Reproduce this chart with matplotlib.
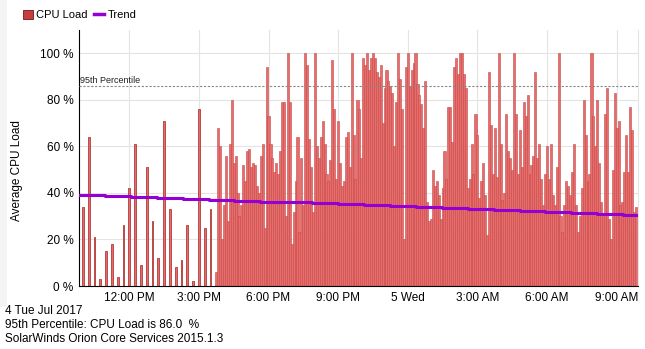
import pandas as pd
import matplotlib
matplotlib.use('Agg')
import matplotlib.pyplot as plt
import matplotlib.dates as mdates
from matplotlib.patches import Patch, Rectangle
from matplotlib.lines import Line2D

plt.rcParams['font.family'] = ['Liberation Sans', 'DejaVu Sans']

# CPU load samples (%), polled every 15 min until 15:30, then every 5 min
sparse_start = '2017-07-04 10:00'
sparse_load = [34, 64, 21, 3, 15, 18, 4, 26, 42, 61, 9, 51, 28, 12, 71, 33,
               8, 11, 26, 2, 76, 25, 33]

dense_start = '2017-07-04 15:45'
dense_load = [
    6, 68, 60, 20, 35, 56, 28, 61, 80, 53, 56, 40, 30, 35, 52, 45, 58, 59,
    51, 53, 52, 43, 40, 56, 61, 25, 94, 73, 61, 55, 49, 53, 48, 58, 79,
    79, 30, 100, 79, 18, 32, 45, 64, 23, 55, 35, 100, 95, 63, 51, 32, 100,
    60, 55, 64, 71, 61, 48, 45, 54, 97, 76, 46, 71, 53, 43, 45, 64, 66, 51, 100,
    65, 46, 80, 76, 55, 98, 95, 100, 93, 98, 100, 98, 92, 90, 95, 70, 85, 93,
    88, 86, 83, 60, 79, 100, 89, 76, 20, 94, 100, 86, 93, 96, 100, 87, 82, 78,
    68, 88, 36, 28, 29, 50, 43, 45, 39, 29, 42, 58, 46, 77, 77, 62, 94, 98,
    91, 100, 100, 91, 85, 42, 46, 61, 48, 74, 65, 38, 45, 53, 39, 22, 92, 69,
    48, 68, 47, 100, 61, 37, 40, 74, 58, 55, 50, 100, 74, 48, 67, 51, 79, 73,
    82, 48, 52, 56, 92, 55, 61, 46, 35, 48, 60, 46, 61, 39, 35, 51, 100, 30,
    23, 35, 45, 43, 39, 49, 61, 35, 23, 30, 42, 80, 65, 45, 48, 100, 73, 60,
    80, 53, 36, 30, 74, 85, 29, 20, 50, 83, 68, 71, 35, 36, 49, 65, 49, 77,
    67, 32, 34,
]

# trend line, stepped
trend_start = '2017-07-04 09:50'
trend_load = [39.2, 38.8, 38.4, 38.0, 37.6, 37.1, 36.7, 36.3, 35.9, 35.5,
              35.1, 34.7, 34.3, 33.8, 33.4, 33.0, 32.6, 32.2, 31.8, 31.4,
              30.9, 30.5, 30.3]

percentile_95 = 86.0

x_ticks = ['2017-07-04 12:00', '2017-07-04 15:00', '2017-07-04 18:00',
           '2017-07-04 21:00', '2017-07-05 00:00', '2017-07-05 03:00',
           '2017-07-05 06:00', '2017-07-05 09:00']
x_labels = ['12:00 PM', '3:00 PM', '6:00 PM', '9:00 PM', '5 Wed',
            '3:00 AM', '6:00 AM', '9:00 AM']

sparse_t = pd.date_range(sparse_start, periods=len(sparse_load), freq='15min')
dense_t = pd.date_range(dense_start, periods=len(dense_load), freq='5min')
trend_t = pd.date_range(trend_start, periods=len(trend_load), freq='67min')

fig = plt.figure(figsize=(6.45, 3.49), dpi=100)
# faint grey strip down the left edge
fig.patches.append(Rectangle((0, 0.12), 0.011, 0.88, transform=fig.transFigure,
                             facecolor='#f4f4f4', edgecolor='none', zorder=0))
ax = fig.add_axes([0.1225, 0.1805, 0.8665, 0.7335])

bar_w = 5 / 1440
ax.bar(mdates.date2num(sparse_t), sparse_load, width=bar_w, color='#e86a6a',
       edgecolor='#b23a3a', linewidth=0.6, zorder=2)
ax.bar(mdates.date2num(dense_t), dense_load, width=bar_w * 1.1,
       color='#e96c6b', edgecolor='#c24a4a', linewidth=0.4, zorder=2)

ax.step(mdates.date2num(trend_t), trend_load, where='post', color='#9400d3',
        lw=2.2, zorder=4)

ax.axhline(percentile_95, color='#888888', lw=0.8, ls=(0, (2, 1.5)), zorder=3)
ax.text(mdates.date2num(pd.Timestamp('2017-07-04 09:52')), percentile_95 + 1.2,
        '95th Percentile', fontsize=6.5, color='#222222', zorder=5)

ax.set_xlim(mdates.date2num(pd.Timestamp('2017-07-04 09:50')),
            mdates.date2num(pd.Timestamp('2017-07-05 09:55')))
ax.set_ylim(0, 110)
ax.set_xticks(mdates.date2num(pd.to_datetime(x_ticks)))
ax.set_xticklabels(x_labels, fontsize=8.5)
ax.set_yticks(range(0, 101, 20))
ax.set_yticklabels(['%d %%' % v for v in range(0, 101, 20)], fontsize=8.5)
ax.tick_params(length=0, pad=4)
ax.set_ylabel('Average CPU Load', fontsize=8.5, labelpad=12)
ax.yaxis.set_label_coords(-0.1, 0.45)

ax.grid(color='#e4e4e4', lw=0.8, zorder=0)
ax.set_axisbelow(True)
ax.spines['top'].set_visible(False)
ax.spines['right'].set_color('#e4e4e4')
ax.spines['left'].set_color('black')
ax.spines['bottom'].set_color('black')

handles = [Patch(facecolor='#c83c3c', edgecolor='#6a1a1a', lw=0.6),
           Line2D([], [], color='#9400d3', lw=2.5)]
fig.legend(handles, ['CPU Load', 'Trend'], loc='upper left',
           bbox_to_anchor=(0.02, 1.0), ncol=2, frameon=False, fontsize=8,
           handlelength=0.9, handleheight=0.9, handletextpad=0.3,
           columnspacing=0.6)

fig.text(0.008, 1 - 311 / 349, '4 Tue Jul 2017', fontsize=8.5, va='center')
fig.text(0.008, 1 - 325 / 349, '95th Percentile: CPU Load is 86.0  %',
         fontsize=8.5, va='center')
fig.text(0.008, 1 - 339 / 349, 'SolarWinds Orion Core Services 2015.1.3',
         fontsize=8.5, va='center')

fig.savefig('out.png', dpi=100)
